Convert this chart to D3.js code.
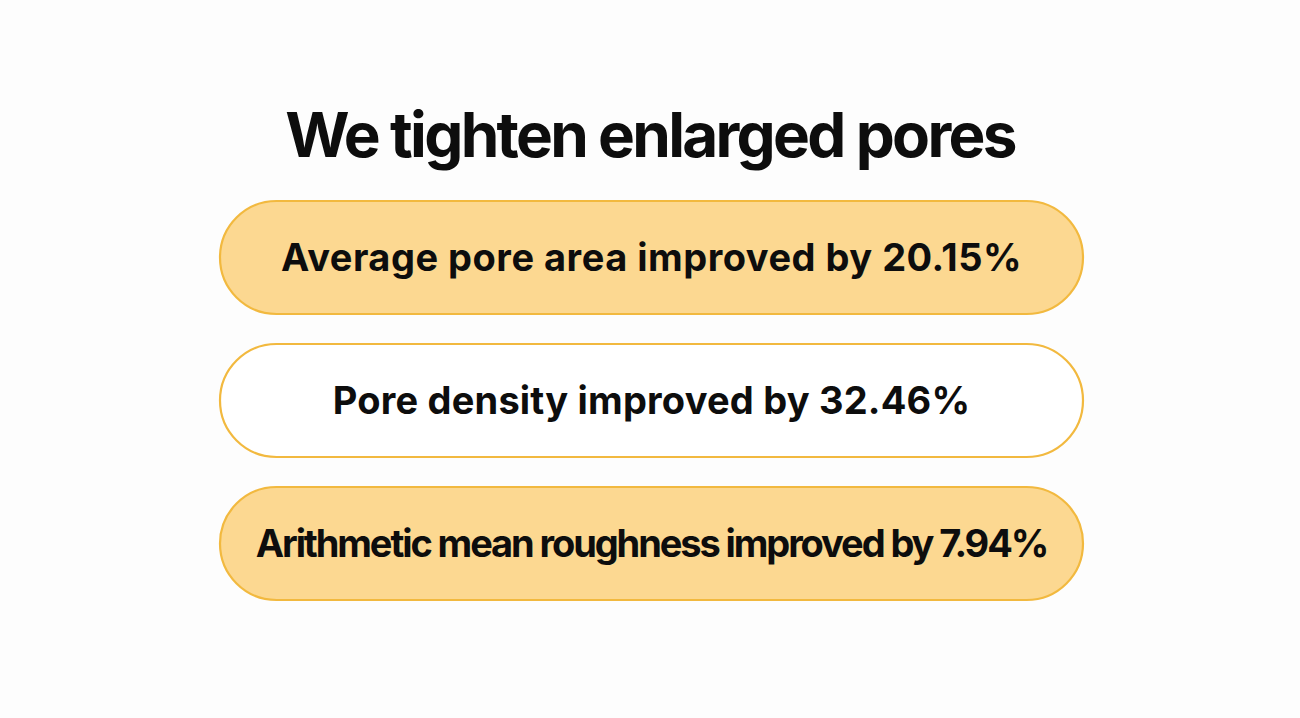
<!DOCTYPE html>
<html>
<head>
<meta charset="utf-8">
<script src="https://cdn.jsdelivr.net/npm/d3@7"></script>
<style>
  body { margin: 0; background: #fdfdfd; }
  svg { display: block; }
  text { font-family: Inter, "Noto Sans", sans-serif; font-weight: 700; fill: #0d0d0d; }
</style>
</head>
<body>
<svg id="chart" width="1300" height="718"></svg>
<script>
var title = "We tighten enlarged pores";
var metrics = ["Average pore area", "Pore density", "Arithmetic mean roughness"];
var improvements = [20.15, 32.46, 7.94];
var highlighted = [true, false, true];

var width = 1300, height = 718;
// tracking per row, the long last line is set tighter
var rowTracking = [0.5, 0.2, -2.1];

var svg = d3.select("#chart");

var rows = d3.range(metrics.length);
var y = d3.scaleBand().domain(rows).range([201, 600]).paddingInner(0.21).paddingOuter(0);
var x = d3.scaleLinear().domain([0, 1]).range([220, 1083]);

svg.append("text")
    .attr("x", width / 2)
    .attr("y", 157)
    .attr("text-anchor", "middle")
    .attr("font-size", 62)
    .attr("letter-spacing", -2.7)
    .text(title);

var pill = svg.selectAll(".pill")
    .data(rows)
    .enter()
    .append("g")
    .attr("class", "pill")
    .attr("transform", function(d){ return "translate(0," + y(d) + ")"; });

pill.append("rect")
    .attr("x", x(0))
    .attr("y", 0)
    .attr("width", x(1) - x(0))
    .attr("height", y.bandwidth())
    .attr("rx", y.bandwidth() / 2)
    .attr("fill", function(d){ return highlighted[d] ? "#fcd891" : "#ffffff"; })
    .attr("stroke", "#f2b93f")
    .attr("stroke-width", 2.2);

pill.append("text")
    .attr("x", (x(0) + x(1)) / 2)
    .attr("y", y.bandwidth() / 2)
    .attr("dy", "0.36em")
    .attr("text-anchor", "middle")
    .attr("font-size", 38)
    .attr("letter-spacing", function(d){ return rowTracking[d]; })
    .text(function(d){ return metrics[d] + " improved by " + improvements[d] + "%"; });
</script>
</body>
</html>
